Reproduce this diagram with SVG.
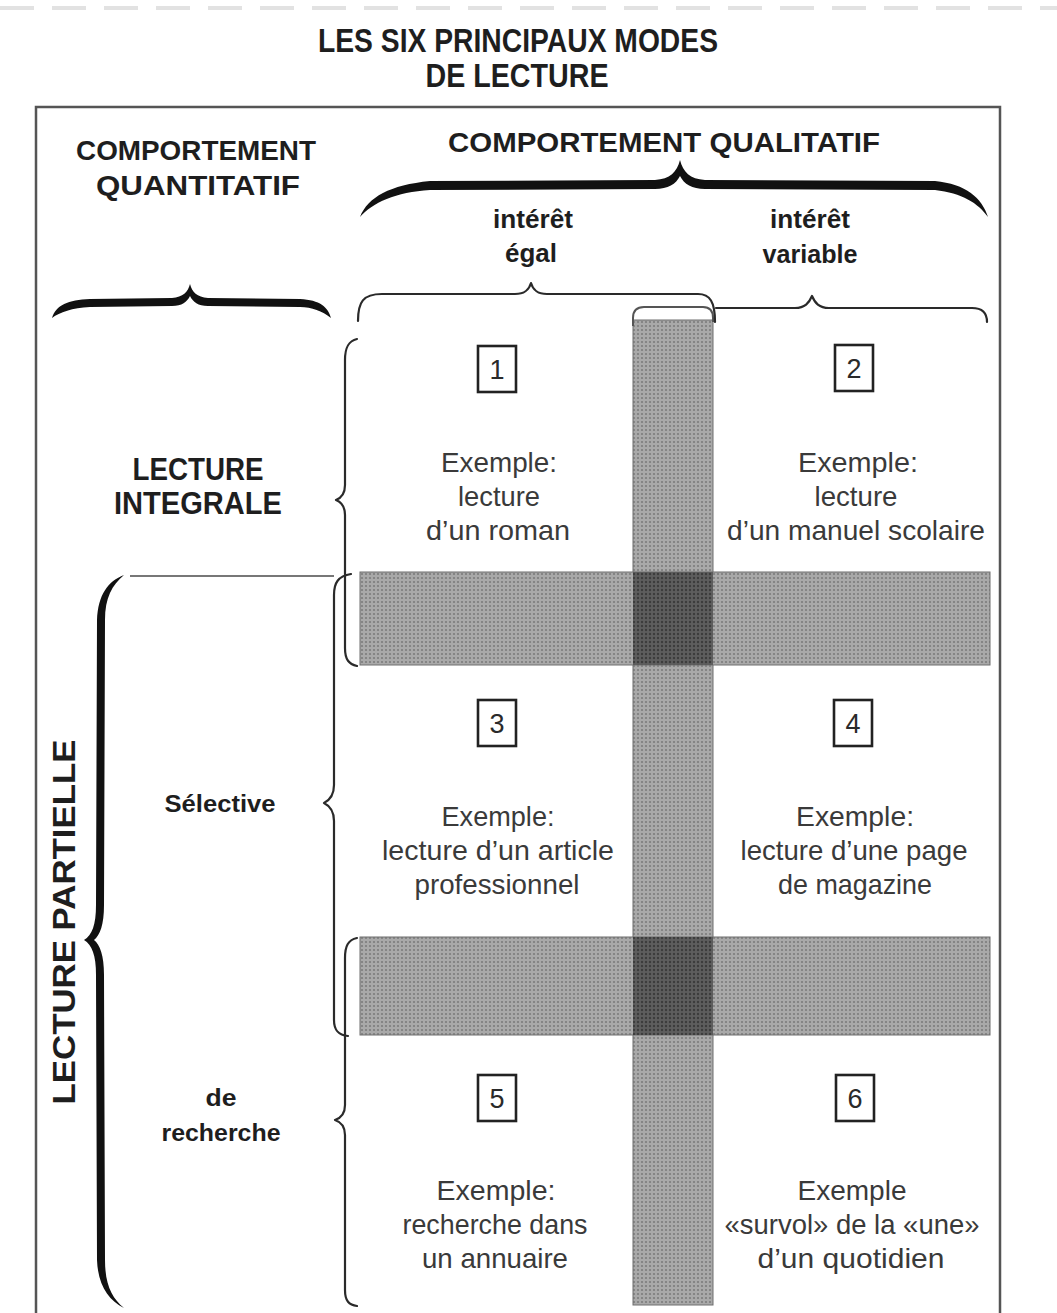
<svg xmlns="http://www.w3.org/2000/svg" width="1057" height="1313" viewBox="0 0 1057 1313">
<style>
.hb{font-family:"Liberation Sans",Arial,sans-serif;font-weight:bold;fill:#1e1e1e;text-anchor:middle}
.cell{font-family:"Liberation Sans",Arial,sans-serif;font-size:28px;fill:#3a3a3a;text-anchor:middle}
.num{font-family:"Liberation Sans",Arial,sans-serif;font-size:27px;fill:#2a2a2a;text-anchor:middle}
.box{fill:#fff;stroke:#222;stroke-width:2.6}
.thin{fill:none;stroke:#2a2a2a;stroke-width:2.2;stroke-linecap:round;stroke-linejoin:round}
.thick{fill:#111;stroke:none}
.frame{fill:none;stroke:#555;stroke-width:2.5}
</style>
<defs>
<pattern id="dots" width="4" height="4" patternUnits="userSpaceOnUse">
<rect width="4" height="4" fill="#a9a9a9"/>
<circle cx="2" cy="2" r="1.1" fill="#7c7c7c"/>
</pattern>
<pattern id="dotsDark" width="4" height="4" patternUnits="userSpaceOnUse">
<rect width="4" height="4" fill="#5e5e5e"/>
<circle cx="2" cy="2" r="1.2" fill="#3c3c3c"/>
</pattern>
</defs>
<rect width="1057" height="1313" fill="#fff"/>
<line x1="0" y1="8" x2="1057" y2="8" stroke="#e2e2e2" stroke-width="4" stroke-dasharray="34 18"/>

<g id="title">
<text class="hb" x="518" y="52" font-size="34" textLength="400" lengthAdjust="spacingAndGlyphs">LES SIX PRINCIPAUX MODES</text>
<text class="hb" x="517" y="87" font-size="34" textLength="183" lengthAdjust="spacingAndGlyphs">DE LECTURE</text>
</g>

<g id="frame">
<path class="frame" d="M36,1313 V107 H1000 V1313"/>
</g>

<g id="bands">
<rect x="633" y="320" width="80" height="985" fill="url(#dots)" stroke="#6e6e6e" stroke-width="1"/>
<rect x="360" y="572" width="630" height="93" fill="url(#dots)" stroke="#6e6e6e" stroke-width="1"/>
<rect x="360" y="937" width="630" height="98" fill="url(#dots)" stroke="#6e6e6e" stroke-width="1"/>
<rect x="633" y="572" width="80" height="93" fill="url(#dotsDark)"/>
<rect x="633" y="937" width="80" height="98" fill="url(#dotsDark)"/>
<path d="M633,326 V318 Q633,307 644,307 H703 Q713,307 713,318 V322" fill="none" stroke="#555" stroke-width="2"/>
</g>

<g id="header-quantitatif">
<text class="hb" x="196" y="160" font-size="28" textLength="240" lengthAdjust="spacingAndGlyphs">COMPORTEMENT</text>
<text class="hb" x="198" y="195" font-size="28" textLength="204" lengthAdjust="spacingAndGlyphs">QUANTITATIF</text>
</g>
<g id="header-qualitatif">
<text class="hb" x="664" y="152" font-size="28" textLength="432" lengthAdjust="spacingAndGlyphs">COMPORTEMENT QUALITATIF</text>
</g>
<g id="interet-egal">
<text class="hb" x="533" y="228" font-size="25" textLength="80" lengthAdjust="spacingAndGlyphs">intérêt</text>
<text class="hb" x="531" y="262" font-size="25" textLength="52" lengthAdjust="spacingAndGlyphs">égal</text>
</g>
<g id="interet-variable">
<text class="hb" x="810" y="228" font-size="25" textLength="80" lengthAdjust="spacingAndGlyphs">intérêt</text>
<text class="hb" x="810" y="263" font-size="25" textLength="95" lengthAdjust="spacingAndGlyphs">variable</text>
</g>
<g id="lecture-integrale">
<text class="hb" x="198" y="480" font-size="31" textLength="131" lengthAdjust="spacingAndGlyphs">LECTURE</text>
<text class="hb" x="198" y="514" font-size="31" textLength="168" lengthAdjust="spacingAndGlyphs">INTEGRALE</text>
</g>
<g id="lecture-partielle">
<text class="hb" transform="translate(75,922) rotate(-90)" x="0" y="0" font-size="32" textLength="365" lengthAdjust="spacingAndGlyphs">LECTURE PARTIELLE</text>
</g>
<g id="selective">
<text class="hb" x="220" y="812" font-size="24" textLength="111" lengthAdjust="spacingAndGlyphs">Sélective</text>
</g>
<g id="de-recherche">
<text class="hb" x="221" y="1106" font-size="24" textLength="31" lengthAdjust="spacingAndGlyphs">de</text>
<text class="hb" x="221" y="1141" font-size="24" textLength="119" lengthAdjust="spacingAndGlyphs">recherche</text>
</g>

<g id="cell1">
<rect class="box" x="478" y="346" width="38" height="46"/>
<text class="num" x="497" y="379">1</text>
<text class="cell" x="499" y="472" textLength="116" lengthAdjust="spacingAndGlyphs">Exemple:</text>
<text class="cell" x="499" y="506" textLength="82" lengthAdjust="spacingAndGlyphs">lecture</text>
<text class="cell" x="498" y="540" textLength="144" lengthAdjust="spacingAndGlyphs">d’un roman</text>
</g>
<g id="cell2">
<rect class="box" x="835" y="345" width="38" height="46"/>
<text class="num" x="854" y="378">2</text>
<text class="cell" x="858" y="472" textLength="120" lengthAdjust="spacingAndGlyphs">Exemple:</text>
<text class="cell" x="856" y="506" textLength="83" lengthAdjust="spacingAndGlyphs">lecture</text>
<text class="cell" x="856" y="540" textLength="258" lengthAdjust="spacingAndGlyphs">d’un manuel scolaire</text>
</g>
<g id="cell3">
<rect class="box" x="478" y="700" width="38" height="46"/>
<text class="num" x="497" y="733">3</text>
<text class="cell" x="498" y="826" textLength="113" lengthAdjust="spacingAndGlyphs">Exemple:</text>
<text class="cell" x="498" y="860" textLength="232" lengthAdjust="spacingAndGlyphs">lecture d’un article</text>
<text class="cell" x="497" y="894" textLength="165" lengthAdjust="spacingAndGlyphs">professionnel</text>
</g>
<g id="cell4">
<rect class="box" x="834" y="700" width="38" height="46"/>
<text class="num" x="853" y="733">4</text>
<text class="cell" x="855" y="826" textLength="118" lengthAdjust="spacingAndGlyphs">Exemple:</text>
<text class="cell" x="854" y="860" textLength="227" lengthAdjust="spacingAndGlyphs">lecture d’une page</text>
<text class="cell" x="855" y="894" textLength="154" lengthAdjust="spacingAndGlyphs">de magazine</text>
</g>
<g id="cell5">
<rect class="box" x="478" y="1075" width="38" height="46"/>
<text class="num" x="497" y="1108">5</text>
<text class="cell" x="496" y="1200" textLength="119" lengthAdjust="spacingAndGlyphs">Exemple:</text>
<text class="cell" x="495" y="1234" textLength="185" lengthAdjust="spacingAndGlyphs">recherche dans</text>
<text class="cell" x="495" y="1268" textLength="146" lengthAdjust="spacingAndGlyphs">un annuaire</text>
</g>
<g id="cell6">
<rect class="box" x="836" y="1075" width="38" height="46"/>
<text class="num" x="855" y="1108">6</text>
<text class="cell" x="852" y="1200" textLength="109" lengthAdjust="spacingAndGlyphs">Exemple</text>
<text class="cell" x="852" y="1234" textLength="255" lengthAdjust="spacingAndGlyphs">«survol» de la «une»</text>
<text class="cell" x="851" y="1268" textLength="187" lengthAdjust="spacingAndGlyphs">d’un quotidien</text>
</g>

<g id="connectors">
<path class="thick" d="M360,217 C368,197 390,185 430,181 L655,180 C670,179 677,172 680,160 C683,172 690,179 705,180 L935,181 C966,184 982,198 988,217 C978,203 962,193 935,190 L705,189 C692,189 684,184 680,176 C676,184 668,189 655,189 L430,190 C396,192 372,203 360,217 Z"/>
<path class="thick" d="M52,318 C56,305 68,300 90,299 L172,298 C183,297 188,292 190,284 C192,292 197,297 208,298 L300,299 C320,300 328,307 331,318 C322,311 312,307 300,307 L208,306 C198,306 193,302 190,296 C187,302 182,306 172,306 L90,307 C72,308 60,312 52,318 Z"/>
<path class="thick" d="M124,575 C108,581 98,595 97,620 L96,905 C96,925 92,935 84,940 C92,945 96,955 96,975 L97,1260 C98,1285 108,1300 124,1308 C112,1298 105,1285 105,1260 L104,975 C104,955 100,945 94,940 C100,935 104,925 104,905 L105,620 C105,598 112,585 124,575 Z"/>
<line x1="130" y1="576" x2="334" y2="576" stroke="#777" stroke-width="2"/>
<path class="thin" d="M358,321 C358,302 363,294 382,294 H515 C525,294 529,290 531,283 C533,290 537,294 547,294 H698 C710,294 715,302 715,322"/>
<path class="thin" d="M716,308 H795 C805,308 809,303 812,296 C815,303 819,308 829,308 H972 C982,308 987,313 987,322"/>
<path class="thin" d="M357,339 C348,341 345,348 345,360 V485 C345,494 341,498 336,500 C341,502 345,506 345,515 V648 C345,660 349,664 357,666"/>
<path class="thin" d="M351,574 C338,576 334,583 334,595 V785 C334,795 330,800 324,803 C330,806 334,811 334,821 V1020 C334,1030 338,1035 348,1036"/>
<path class="thin" d="M357,938 C348,940 345,946 345,958 V1105 C345,1114 341,1118 335,1120 C341,1122 345,1126 345,1135 V1290 C345,1301 349,1305 357,1306"/>
</g>
</svg>
